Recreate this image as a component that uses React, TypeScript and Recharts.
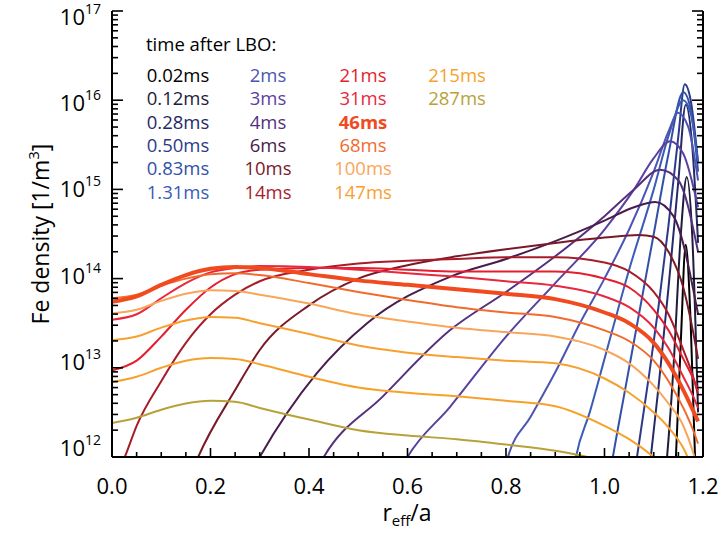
import React from 'react';
import { LineChart, Line, XAxis, YAxis } from 'recharts';

const FONT = '"Open Sans", "Noto Sans", sans-serif';

// ---- data: x = r_eff/a, N = log10(Fe density [1/m^3]) ----
const X_LATE = [0, 0.05, 0.1, 0.15, 0.2, 0.25, 0.3, 0.4, 0.5, 0.6, 0.7, 0.8, 0.9, 1.0, 1.05, 1.1, 1.13, 1.16, 1.18, 1.19];

const X_0_02 = [1.14, 1.145, 1.155, 1.165, 1.175, 1.185];
const N_0_02 = [11.5, 12.0, 13.3, 14.38, 13.5, 11.8];
const X_0_12 = [1.12, 1.127, 1.14, 1.155, 1.167, 1.178, 1.19];
const N_0_12 = [11.6, 12.0, 13.0, 14.5, 15.14, 14.5, 12.5];
const X_0_28 = [1.085, 1.094, 1.11, 1.13, 1.15, 1.165, 1.178, 1.19];
const N_0_28 = [11.6, 12.0, 12.8, 13.9, 15.1, 15.95, 15.5, 14.4];
const X_0_50 = [1.055, 1.066, 1.09, 1.11, 1.13, 1.15, 1.163, 1.175, 1.19];
const N_0_50 = [11.6, 12.0, 12.9, 13.7, 14.6, 15.6, 16.18, 16.0, 15.3];
const X_0_83 = [1.005, 1.017, 1.04, 1.07, 1.1, 1.13, 1.16, 1.175, 1.19];
const N_0_83 = [11.6, 12.0, 12.7, 13.6, 14.5, 15.4, 16.09, 15.9, 15.2];
const X_1_31 = [0.93, 0.942, 0.97, 1.0, 1.05, 1.1, 1.13, 1.16, 1.175, 1.19];
const N_1_31 = [11.6, 12.0, 12.5, 13.1, 14.1, 15.0, 15.6, 16.0, 15.85, 15.3];
const X_2 = [0.79, 0.804, 0.85, 0.9, 0.95, 1.0, 1.05, 1.1, 1.13, 1.149, 1.17, 1.19];
const N_2 = [11.7, 12.0, 12.45, 12.95, 13.5, 14.0, 14.55, 15.2, 15.65, 15.86, 15.7, 15.1];
const X_3 = [0.58, 0.6, 0.686, 0.8, 0.9, 1.0, 1.06, 1.1, 1.133, 1.16, 1.19];
const N_3 = [11.8, 12.0, 12.56, 13.35, 13.95, 14.55, 15.0, 15.35, 15.54, 15.4, 14.8];
const X_4 = [0.41, 0.43, 0.55, 0.686, 0.8, 0.9, 1.0, 1.06, 1.113, 1.15, 1.19];
const N_4 = [11.8, 12.0, 12.68, 13.42, 13.85, 14.25, 14.7, 15.0, 15.22, 15.1, 14.3];
const X_6 = [0.28, 0.3, 0.416, 0.518, 0.686, 0.8, 0.9, 1.0, 1.06, 1.103, 1.14, 1.19];
const N_6 = [11.8, 12.0, 12.94, 13.5, 14.02, 14.22, 14.42, 14.65, 14.8, 14.86, 14.7, 13.6];
const X_10 = [0.16, 0.175, 0.25, 0.3, 0.4, 0.5, 0.6, 0.7, 0.8, 0.9, 1.0, 1.07, 1.1, 1.13, 1.16, 1.18, 1.19];
const N_10 = [11.8, 12.0, 12.75, 13.2, 13.7, 14.0, 14.15, 14.25, 14.33, 14.4, 14.46, 14.49, 14.47, 14.3, 13.9, 13.4, 13.1];
const X_14 = [0, 0.026, 0.05, 0.1, 0.15, 0.2, 0.25, 0.3, 0.4, 0.5, 0.6, 0.7, 0.8, 0.9, 1.0, 1.05, 1.1, 1.13, 1.16, 1.18, 1.19];
const N_14 = [11.7, 12.0, 12.35, 12.85, 13.28, 13.6, 13.82, 13.97, 14.1, 14.17, 14.2, 14.22, 14.24, 14.24, 14.18, 14.08, 13.85, 13.6, 13.2, 12.9, 12.7];
const N_21 = [12.97, 13.08, 13.35, 13.65, 13.9, 14.05, 14.1, 14.12, 14.12, 14.1, 14.08, 14.08, 14.08, 14.0, 13.9, 13.65, 13.42, 13.1, 12.88, 12.75];
const N_31 = [13.54, 13.6, 13.78, 13.95, 14.07, 14.12, 14.14, 14.13, 14.1, 14.06, 14.02, 13.97, 13.92, 13.8, 13.68, 13.45, 13.22, 12.9, 12.68, 12.55];
const N_46 = [13.74, 13.8, 13.93, 14.04, 14.11, 14.13, 14.12, 14.05, 13.98, 13.93, 13.88, 13.83, 13.77, 13.62, 13.5, 13.28, 13.05, 12.75, 12.52, 12.4];
const N_68 = [13.78, 13.82, 13.92, 14.0, 14.05, 14.06, 14.04, 13.95, 13.85, 13.76, 13.68, 13.62, 13.57, 13.42, 13.3, 13.08, 12.85, 12.55, 12.3, 12.15];
const N_100 = [13.61, 13.65, 13.75, 13.83, 13.87, 13.86, 13.82, 13.72, 13.6, 13.52, 13.45, 13.4, 13.35, 13.2, 13.05, 12.8, 12.6, 12.35, 12.05, 11.85];
const N_147 = [13.31, 13.35, 13.45, 13.53, 13.57, 13.56, 13.5, 13.38, 13.25, 13.17, 13.12, 13.08, 13.05, 12.88, 12.72, 12.5, 12.33, 12.1, 11.85, 11.7];
const N_215 = [12.84, 12.9, 13.0, 13.08, 13.11, 13.1, 13.04, 12.9, 12.78, 12.72, 12.68, 12.63, 12.57, 12.35, 12.2, 12.0, 11.85, 11.6, 11.4, 11.3];
const N_287 = [12.38, 12.44, 12.53, 12.6, 12.63, 12.62, 12.55, 12.42, 12.3, 12.24, 12.2, 12.14, 12.07, 11.95, 11.85, 11.75, 11.65, 11.5, 11.4, 11.3];

const SERIES_NAMES = ['0.02ms', '0.12ms', '0.28ms', '0.50ms', '0.83ms', '1.31ms', '2ms', '3ms', '4ms', '6ms', '10ms', '14ms', '21ms', '31ms', '46ms', '68ms', '100ms', '147ms', '215ms', '287ms'];
const SERIES_COLORS = ['#000000', '#1c1c3c', '#262a66', '#2c3a8a', '#3150a8', '#3a5cb6', '#4c55b2', '#5a40a0', '#54307e', '#4a1c4e', '#7a1a28', '#a81c2a', '#e41e2e', '#e8283c', '#f04a1e', '#f26b2e', '#f9a55a', '#f7a030', '#f6a22a', '#b7a23a'];
const SERIES_X = [X_0_02, X_0_12, X_0_28, X_0_50, X_0_83, X_1_31, X_2, X_3, X_4, X_6, X_10, X_14, X_LATE, X_LATE, X_LATE, X_LATE, X_LATE, X_LATE, X_LATE, X_LATE];
const SERIES_N = [N_0_02, N_0_12, N_0_28, N_0_50, N_0_83, N_1_31, N_2, N_3, N_4, N_6, N_10, N_14, N_21, N_31, N_46, N_68, N_100, N_147, N_215, N_287];
const BOLD_SERIES = '46ms';

const X_TICKS = [0, 0.05, 0.1, 0.15, 0.2, 0.25, 0.3, 0.35, 0.4, 0.45, 0.5, 0.55, 0.6, 0.65, 0.7, 0.75, 0.8, 0.85, 0.9, 0.95, 1.0, 1.05, 1.1, 1.15, 1.2];
const Y_DECADES = [12, 13, 14, 15, 16, 17];
const Y_MINOR = [1, 2, 3, 4, 5, 6, 7, 8, 9];

const Y_TICKS: number[] = [];
Y_DECADES.forEach((d) => {
  if (d === 17) Y_TICKS.push(1e17);
  else Y_MINOR.forEach((m) => Y_TICKS.push(m * Math.pow(10, d)));
});

const seriesData = SERIES_X.map((xs, s) => xs.map((x, i) => ({ x, y: Math.pow(10, SERIES_N[s][i]) })));

const isMajorX = (v: number) => Math.abs(v * 5 - Math.round(v * 5)) < 1e-6;
const isMajorY = (v: number) => {
  const e = Math.log10(v);
  return Math.abs(e - Math.round(e)) < 1e-6;
};

const PLOT_TOP = 11;
const PLOT_BOTTOM = 457;

function BottomTick(props: any) {
  const { x, y, payload } = props;
  const v = payload.value;
  const major = isMajorX(v);
  return (
    <g>
      <line x1={x} x2={x} y1={y} y2={y - (major ? 9 : 5)} stroke="#000" strokeWidth={1.6} />
      {major && (
        <text x={x} y={y + 37} textAnchor="middle" fontFamily={FONT} fontSize={22} fill="#000">
          {v.toFixed(1)}
        </text>
      )}
    </g>
  );
}

function TopTick(props: any) {
  const { x, y, payload } = props;
  const major = isMajorX(payload.value);
  return <line x1={x} x2={x} y1={y} y2={y + (major ? 9 : 5)} stroke="#000" strokeWidth={1.6} />;
}

function LeftTick(props: any) {
  const { x, y, payload } = props;
  const v = payload.value;
  const major = isMajorY(v);
  const e = Math.round(Math.log10(v));
  // labels sit slightly inside the axis range, as in the original plot
  const labelCenter = 17 + (y - PLOT_TOP) * (431 / (PLOT_BOTTOM - PLOT_TOP));
  return (
    <g>
      <line x1={x} x2={x + (major ? 11 : 6)} y1={y} y2={y} stroke="#000" strokeWidth={1.6} />
      {major && (
        <text x={x - 11} y={labelCenter + 8} textAnchor="end" fontFamily={FONT} fontSize={22} fill="#000">
          <tspan>10</tspan>
          <tspan dy={-11} fontSize={14}>{e}</tspan>
        </text>
      )}
    </g>
  );
}

function RightTick(props: any) {
  const { x, y, payload } = props;
  const major = isMajorY(payload.value);
  return <line x1={x} x2={x - (major ? 11 : 6)} y1={y} y2={y} stroke="#000" strokeWidth={1.6} />;
}

const LEGEND_COL_X = [178, 268, 363, 457];
const LEGEND_ROW_Y = [82, 105, 129, 152, 175, 199];

export default function App() {
  const order = SERIES_NAMES.map((_, i) => i).filter((i) => SERIES_NAMES[i] !== BOLD_SERIES);
  order.push(SERIES_NAMES.indexOf(BOLD_SERIES));
  return (
    <div style={{ position: 'absolute', left: 0, top: 0, width: 718, height: 536, background: '#fff' }}>
      <LineChart width={718} height={536} margin={{ top: PLOT_TOP, right: 0, bottom: 0, left: 0 }}>
        <XAxis
          xAxisId="b"
          type="number"
          dataKey="x"
          domain={[0, 1.2]}
          ticks={X_TICKS}
          interval={0}
          height={536 - PLOT_BOTTOM}
          tickSize={0}
          tickMargin={0}
          allowDataOverflow
          axisLine={{ stroke: '#000', strokeWidth: 2 }}
          tickLine={false}
          tick={(p: any) => <BottomTick {...p} />}
        />
        <XAxis
          xAxisId="t"
          orientation="top"
          type="number"
          dataKey="x"
          domain={[0, 1.2]}
          ticks={X_TICKS}
          interval={0}
          height={0}
          tickSize={0}
          tickMargin={0}
          allowDataOverflow
          axisLine={{ stroke: '#000', strokeWidth: 2 }}
          tickLine={false}
          tick={(p: any) => <TopTick {...p} />}
        />
        <YAxis
          yAxisId="l"
          scale="log"
          domain={[1e12, 1e17]}
          ticks={Y_TICKS}
          interval={0}
          width={112}
          tickSize={0}
          tickMargin={0}
          allowDataOverflow
          axisLine={{ stroke: '#000', strokeWidth: 2 }}
          tickLine={false}
          tick={(p: any) => <LeftTick {...p} />}
        />
        <YAxis
          yAxisId="r"
          orientation="right"
          scale="log"
          domain={[1e12, 1e17]}
          ticks={Y_TICKS}
          interval={0}
          width={15}
          tickSize={0}
          tickMargin={0}
          allowDataOverflow
          axisLine={{ stroke: '#000', strokeWidth: 2 }}
          tickLine={false}
          tick={(p: any) => <RightTick {...p} />}
        />
        {order.map((i) => (
          <Line
            key={SERIES_NAMES[i]}
            xAxisId="b"
            yAxisId="l"
            data={seriesData[i]}
            dataKey="y"
            type="monotone"
            dot={false}
            activeDot={false}
            stroke={SERIES_COLORS[i]}
            strokeWidth={SERIES_NAMES[i] === BOLD_SERIES ? 4 : 2}
            isAnimationActive={false}
          />
        ))}
      </LineChart>
      <svg width={718} height={536} style={{ position: 'absolute', left: 0, top: 0, pointerEvents: 'none' }}>
        <text x={146} y={51} fontFamily={FONT} fontSize={18.5} fill="#000">time after LBO:</text>
        {SERIES_NAMES.map((name, i) => (
          <text
            key={name}
            x={LEGEND_COL_X[Math.floor(i / 6)]}
            y={LEGEND_ROW_Y[i % 6]}
            textAnchor="middle"
            fontFamily={FONT}
            fontSize={18.5}
            fontWeight={name === BOLD_SERIES ? 700 : 400}
            fill={SERIES_COLORS[i]}
          >
            {name}
          </text>
        ))}
        <text transform="translate(49,234) rotate(-90)" textAnchor="middle" fontFamily={FONT} fontSize={23} fill="#000">
          Fe density [1/m<tspan dy={-10} fontSize={15}>3</tspan><tspan dy={10}>]</tspan>
        </text>
        <text x={407} y={521} textAnchor="middle" fontFamily={FONT} fontSize={23} fill="#000">
          r<tspan dy={5} fontSize={15}>eff</tspan><tspan dy={-5}>/a</tspan>
        </text>
      </svg>
    </div>
  );
}
